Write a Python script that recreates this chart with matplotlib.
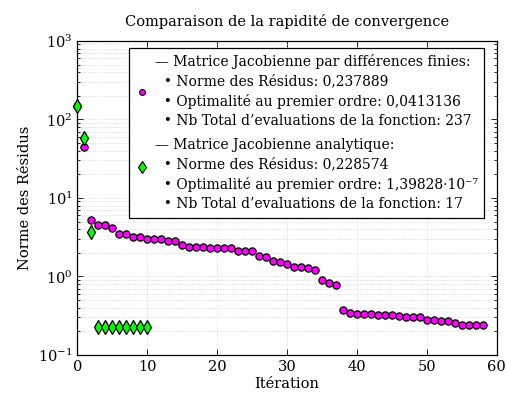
import matplotlib
matplotlib.use("Agg")
import matplotlib.pyplot as plt
from matplotlib.lines import Line2D
from matplotlib.ticker import LogLocator, NullFormatter

plt.rcParams['font.family'] = ['DejaVu Serif']
plt.rcParams['mathtext.fontset'] = 'dejavuserif'

# finite differences jacobian: residual norm per iteration
it_fd = list(range(0, 59))
res_fd = [148.6, 45.0, 5.25, 4.49, 4.49, 4.15, 3.48, 3.48, 3.16, 3.16,
          3.03, 3.00, 2.98, 2.83, 2.81, 2.50, 2.40, 2.38, 2.36, 2.33,
          2.33, 2.32, 2.31, 2.13, 2.11, 2.11, 1.84, 1.76, 1.59, 1.53,
          1.44, 1.32, 1.31, 1.29, 1.19, 0.91, 0.83, 0.787, 0.374, 0.343,
          0.333, 0.333, 0.330, 0.326, 0.324, 0.321, 0.315, 0.305, 0.305, 0.303,
          0.282, 0.277, 0.271, 0.271, 0.256, 0.238, 0.238, 0.238, 0.237889]

# analytical jacobian
it_an = list(range(0, 11))
res_an = [148.6, 57.6, 3.72, 0.2296, 0.2296, 0.2296, 0.2296, 0.2296,
          0.2296, 0.2296, 0.228574]

lab_fd = ("— Matrice Jacobienne par différences finies:\n"
          "  • Norme des Résidus: 0,237889\n"
          "  • Optimalité au premier ordre: 0,0413136\n"
          "  • Nb Total d’evaluations de la fonction: 237")
lab_an = ("— Matrice Jacobienne analytique:\n"
          "  • Norme des Résidus: 0,228574\n"
          "  • Optimalité au premier ordre: 1,39828·10⁻⁷\n"
          "  • Nb Total d’evaluations de la fonction: 17")

fig = plt.figure(figsize=(5.07, 4.01), dpi=100)
ax = fig.add_axes([0.1525, 0.115, 0.8275, 0.783])

ax.plot(it_fd, res_fd, 'o', color='#ff00ff', mec='black', mew=0.9, ms=5.2,
        zorder=3, clip_on=False)
ax.plot(it_an, res_an, 'd', color='#00ff00', mec='black', mew=0.9, ms=7,
        zorder=4, clip_on=False)

ax.set_yscale('log')
ax.set_xlim(0, 60)
ax.set_ylim(0.1, 1000)
ax.set_xticks([0, 10, 20, 30, 40, 50, 60])
ax.yaxis.set_minor_locator(LogLocator(base=10, subs=range(2, 10)))
ax.yaxis.set_minor_formatter(NullFormatter())

ax.grid(True, which='major', axis='x', linestyle=':', color='#d2d2d2', lw=0.6)
ax.grid(True, which='both', axis='y', linestyle=':', color='#d2d2d2', lw=0.6)
ax.tick_params(which='both', direction='in', top=True, right=True,
               labelsize=10.5, width=0.6)
ax.tick_params(which='major', length=4)
ax.tick_params(which='minor', length=2.5)
for s in ax.spines.values():
    s.set_linewidth(0.9)

ax.set_xlabel('Itération', fontsize=10.5, labelpad=2)
ax.set_ylabel('Norme des Résidus', fontsize=10.5, labelpad=4)
ax.set_title('Comparaison de la rapidité de convergence', fontsize=10.5, pad=11)

h_fd = Line2D([], [], ls='none', marker='o', color='#ff00ff', mec='black',
              mew=0.8, ms=4.2)
h_an = Line2D([], [], ls='none', marker='d', color='#00ff00', mec='black',
              mew=0.8, ms=6)
leg = ax.legend([h_fd, h_an], [lab_fd, lab_an], loc='upper right',
                bbox_to_anchor=(0.969, 0.978), fontsize=10, frameon=True,
                fancybox=False, edgecolor='black', framealpha=1,
                handlelength=1.0, handletextpad=0.4, labelspacing=0.7,
                borderpad=0.45, borderaxespad=0)
leg.get_frame().set_linewidth(0.9)
for t in leg.get_texts():
    t.set_linespacing(1.48)

# nudge the diamond handle up so it sits mid-block like the original
hd = leg.legend_handles[1]
hd.set_ydata([y + 6.0 for y in hd.get_ydata()])

fig.savefig('out.png', dpi=100)
